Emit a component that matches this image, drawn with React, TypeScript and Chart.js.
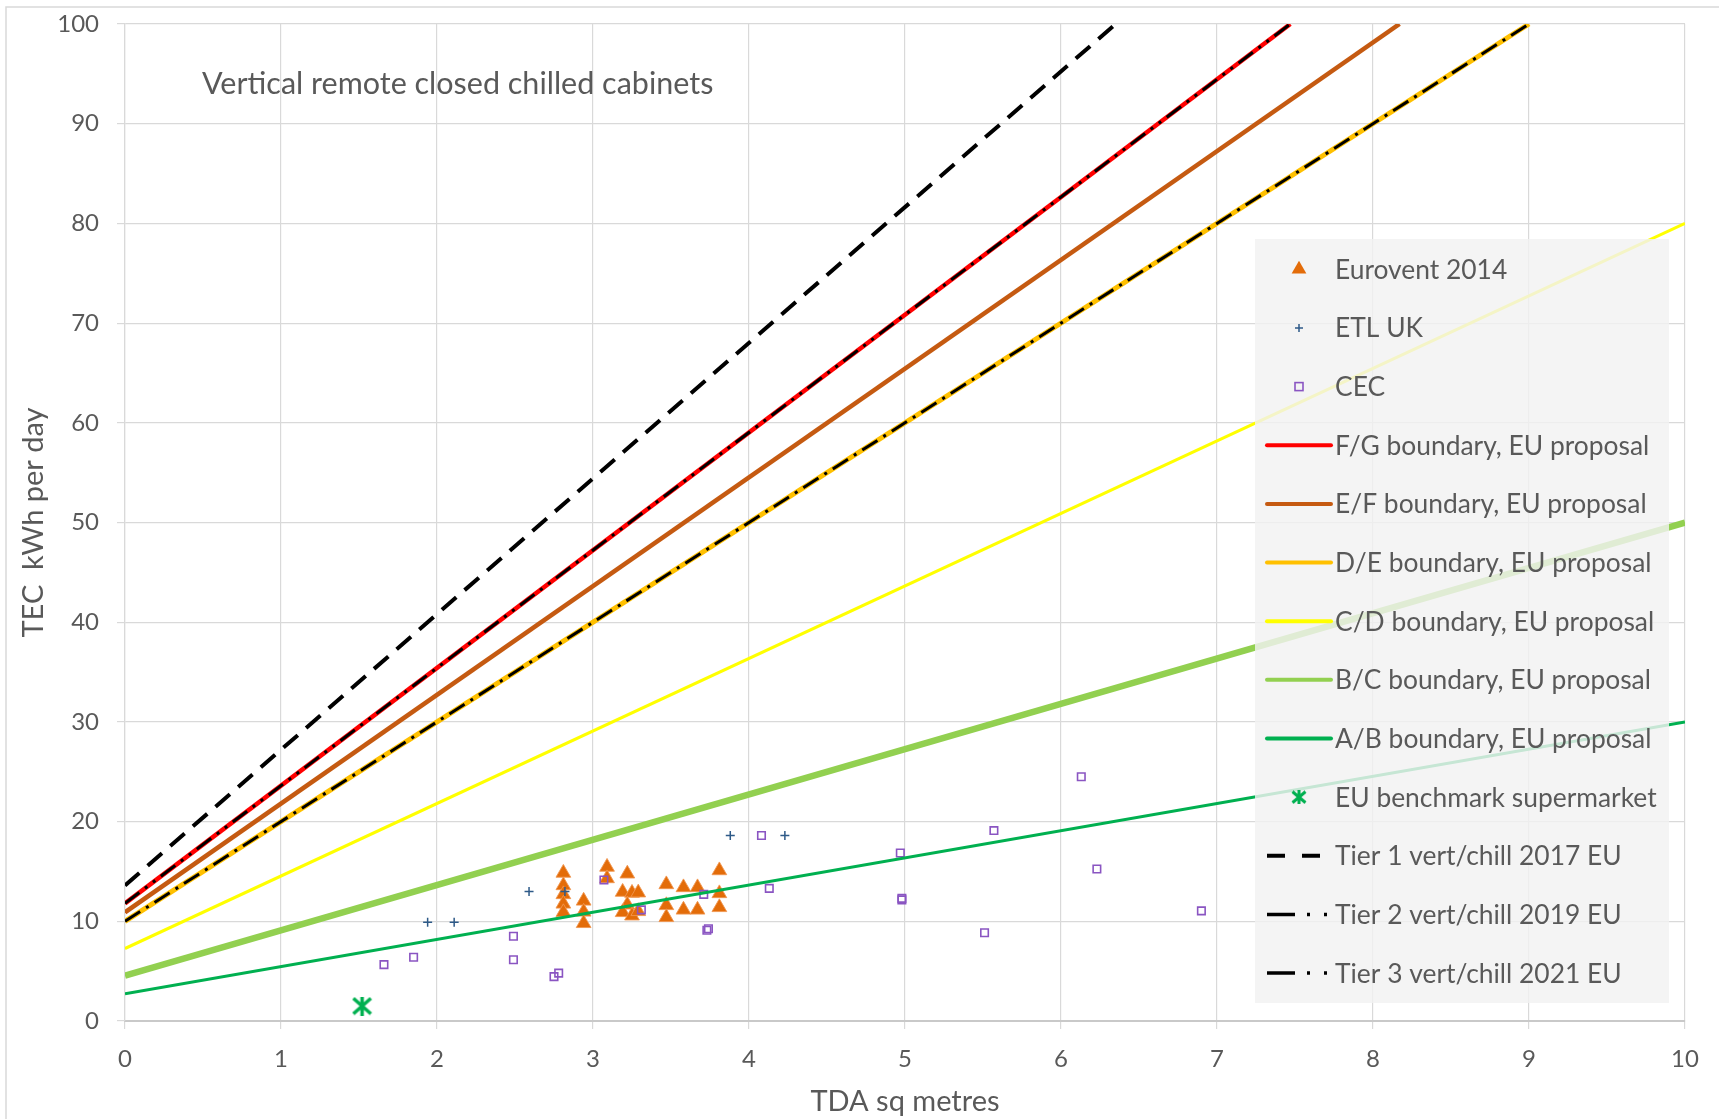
import React, { useEffect, useRef } from 'react';
import { Chart, registerables } from 'chart.js';

Chart.register(...registerables);

// ---------------- data ----------------
const xTickValues = [0, 1, 2, 3, 4, 5, 6, 7, 8, 9, 10];
const yTickValues = [0, 10, 20, 30, 40, 50, 60, 70, 80, 90, 100];

const seriesLabels = [
  'Eurovent 2014',
  'ETL UK',
  'CEC',
  'F/G boundary, EU proposal',
  'E/F boundary, EU proposal',
  'D/E boundary, EU proposal',
  'C/D boundary, EU proposal',
  'B/C boundary, EU proposal',
  'A/B boundary, EU proposal',
  'EU benchmark supermarket',
  'Tier 1 vert/chill 2017 EU',
  'Tier 2 vert/chill 2019 EU',
  'Tier 3 vert/chill 2021 EU',
];

const euroventX = [2.81, 2.81, 2.81, 2.81, 2.81, 2.94, 2.94, 2.94, 3.09, 3.09, 3.22, 3.19, 3.25, 3.29, 3.22, 3.19, 3.25, 3.29, 3.47, 3.47, 3.47, 3.58, 3.58, 3.67, 3.67, 3.81, 3.81, 3.81];
const euroventY = [14.85, 13.6, 12.7, 11.75, 10.9, 12.05, 10.95, 9.8, 15.45, 14.3, 14.77, 12.94, 12.84, 12.87, 11.66, 10.9, 10.56, 11.0, 13.7, 11.6, 10.4, 13.4, 11.15, 13.4, 11.15, 15.1, 12.8, 11.4];

const etlX = [1.94, 2.11, 2.59, 2.82, 3.88, 4.23];
const etlY = [9.9, 9.9, 13.0, 13.0, 18.6, 18.6];

const cecX = [1.66, 1.85, 2.49, 2.49, 2.75, 2.78, 3.07, 3.31, 3.71, 3.73, 3.74, 4.08, 4.13, 4.97, 4.98, 4.98, 5.51, 5.57, 6.13, 6.23, 6.9];
const cecY = [5.65, 6.4, 8.5, 6.15, 4.45, 4.8, 14.15, 11.15, 12.7, 9.1, 9.25, 18.6, 13.3, 16.85, 12.15, 12.3, 8.85, 19.1, 24.5, 15.25, 11.05];

const fgX = [0, 7.47];
const fgY = [11.8, 100];
const efX = [0, 8.17];
const efY = [10.9, 100];
const deX = [0, 9];
const deY = [10, 100];
const cdX = [0, 10];
const cdY = [7.27, 80];
const bcX = [0, 10];
const bcY = [4.55, 50];
const abX = [0, 10];
const abY = [2.73, 30];

const benchX = [1.52];
const benchY = [1.5];

const tier1X = [0, 6.35];
const tier1Y = [13.6, 100];
const tier2X = [0, 7.47];
const tier2Y = [11.8, 100];
const tier3X = [0, 9];
const tier3Y = [10, 100];

const chartTitle = 'Vertical remote closed chilled cabinets';
const xTitle = 'TDA sq metres';
const yTitle = 'TEC  kWh per day';

// ---------------- styles ----------------
const FONT = 'Lato, "Open Sans", sans-serif';
const TEXT = '#595959';
const GRID = '#d9d9d9';
const C_EURO = '#e36c09';
const C_ETL = '#2e5a88';
const C_CEC = '#8a55c2';
const C_FG = '#ff0000';
const C_EF = '#c55a11';
const C_DE = '#ffc000';
const C_CD = '#ffff00';
const C_BC = '#92d050';
const C_AB = '#00b050';
const C_BENCH = '#00b050';

const pts = (xs: number[], ys: number[]) => xs.map((x, i) => ({ x, y: ys[i] }));

function makeBench(w: number, h: number, lw: number, color: string) {
  const c = document.createElement('canvas');
  c.width = w;
  c.height = h;
  const g = c.getContext('2d')!;
  g.strokeStyle = color;
  g.lineWidth = lw;
  const p = lw / 2;
  g.beginPath();
  g.moveTo(p, p);
  g.lineTo(w - p, h - p);
  g.moveTo(w - p, p);
  g.lineTo(p, h - p);
  g.moveTo(w / 2, 0);
  g.lineTo(w / 2, h);
  g.stroke();
  return c;
}

export default function App() {
  const ref = useRef<HTMLCanvasElement>(null);

  useEffect(() => {
    document.body.style.margin = '0';
    const canvas = ref.current!;
    const benchImg = makeBench(21, 19, 3.5, C_BENCH);
    const benchLegend = makeBench(16, 14, 3, C_BENCH);

    const lineDs = (i: number, xs: number[], ys: number[], color: string, width: number, dash: number[] = []) => ({
      label: seriesLabels[i],
      data: pts(xs, ys),
      showLine: true,
      borderColor: color,
      backgroundColor: color,
      borderWidth: width,
      borderDash: dash,
      pointRadius: 0,
      pointHoverRadius: 0,
      clip: 0,
      order: 13 - i,
    });

    const datasets: any[] = [
      {
        label: seriesLabels[0],
        data: pts(euroventX, euroventY),
        pointStyle: 'triangle',
        pointRadius: 8.5,
        backgroundColor: C_EURO,
        borderColor: 'rgba(240,150,80,0.9)',
        borderWidth: 1,
        order: 13,
      },
      {
        label: seriesLabels[1],
        data: pts(etlX, etlY),
        pointStyle: 'cross',
        pointRadius: 4.5,
        borderColor: C_ETL,
        backgroundColor: C_ETL,
        borderWidth: 1.5,
        order: 12,
      },
      {
        label: seriesLabels[2],
        data: pts(cecX, cecY),
        pointStyle: 'rect',
        pointRadius: 5.3,
        borderColor: C_CEC,
        backgroundColor: 'rgba(255,255,255,0)',
        borderWidth: 1.6,
        order: 11,
      },
      lineDs(3, fgX, fgY, C_FG, 4.5),
      lineDs(4, efX, efY, C_EF, 4.5),
      lineDs(5, deX, deY, C_DE, 5),
      lineDs(6, cdX, cdY, C_CD, 3),
      lineDs(7, bcX, bcY, C_BC, 6.5),
      lineDs(8, abX, abY, C_AB, 3),
      {
        label: seriesLabels[9],
        data: pts(benchX, benchY),
        pointStyle: benchImg,
        pointRadius: 10,
        borderColor: C_BENCH,
        backgroundColor: C_BENCH,
        order: 4,
      },
      lineDs(10, tier1X, tier1Y, '#000000', 4, [19, 11]),
      lineDs(11, tier2X, tier2Y, '#000000', 3, [18, 7, 3, 7, 3, 7]),
      lineDs(12, tier3X, tier3Y, '#000000', 3, [18, 7, 3, 7]),
    ];

    const bgPlugin = {
      id: 'bgPlugin',
      beforeDraw(chart: any) {
        const ctx = chart.ctx;
        ctx.save();
        ctx.fillStyle = '#ffffff';
        ctx.fillRect(0, 0, chart.width, chart.height);
        ctx.strokeStyle = GRID;
        ctx.lineWidth = 1.5;
        ctx.beginPath();
        ctx.moveTo(6, chart.height);
        ctx.lineTo(6, 7);
        ctx.lineTo(chart.width, 7);
        ctx.stroke();
        ctx.restore();
      },
    };

    const overlayPlugin = {
      id: 'overlayPlugin',
      afterDraw(chart: any) {
        const ctx = chart.ctx;
        ctx.save();
        // chart title inside plot
        ctx.fillStyle = TEXT;
        ctx.font = `30.5px ${FONT}`;
        ctx.textBaseline = 'middle';
        ctx.textAlign = 'left';
        ctx.fillText(chartTitle, 202, 84);

        // legend box
        const bx = 1255, by = 239, bw = 414, bh = 764;
        ctx.fillStyle = 'rgba(242,242,242,0.82)';
        ctx.fillRect(bx, by, bw, bh);

        const x0 = 1267, x1 = 1331, xm = 1299, xt = 1335;
        const y0 = 269.3, dy = 58.65;
        ctx.font = `26.4px ${FONT}`;
        seriesLabels.forEach((label, i) => {
          const y = y0 + i * dy;
          ctx.save();
          if (i === 0) {
            const r = 8.5;
            ctx.fillStyle = C_EURO;
            ctx.beginPath();
            ctx.moveTo(xm, y - r);
            ctx.lineTo(xm + r * 0.866, y + r / 2);
            ctx.lineTo(xm - r * 0.866, y + r / 2);
            ctx.closePath();
            ctx.fill();
          } else if (i === 1) {
            ctx.strokeStyle = C_ETL;
            ctx.lineWidth = 1.5;
            ctx.beginPath();
            ctx.moveTo(xm - 4, y);
            ctx.lineTo(xm + 4, y);
            ctx.moveTo(xm, y - 4);
            ctx.lineTo(xm, y + 4);
            ctx.stroke();
          } else if (i === 2) {
            ctx.strokeStyle = C_CEC;
            ctx.lineWidth = 1.6;
            ctx.strokeRect(xm - 4, y - 4, 8, 8);
          } else if (i === 9) {
            ctx.drawImage(benchLegend, xm - 8, y - 7);
          } else {
            const colors: Record<number, string> = { 3: C_FG, 4: C_EF, 5: C_DE, 6: C_CD, 7: C_BC, 8: C_AB };
            ctx.lineCap = 'round';
            if (i <= 8) {
              ctx.strokeStyle = colors[i];
              ctx.lineWidth = 4;
              ctx.beginPath();
              ctx.moveTo(x0, y);
              ctx.lineTo(x1, y);
              ctx.stroke();
            } else if (i === 10) {
              ctx.strokeStyle = '#000';
              ctx.lineWidth = 4;
              ctx.lineCap = 'butt';
              ctx.setLineDash([18, 17]);
              ctx.beginPath();
              ctx.moveTo(x0, y);
              ctx.lineTo(x0 + 53, y);
              ctx.stroke();
            } else {
              ctx.strokeStyle = '#000';
              ctx.lineWidth = 3.5;
              ctx.lineCap = 'butt';
              ctx.setLineDash([28, 12, 3, 14, 3, 10]);
              ctx.beginPath();
              ctx.moveTo(x0, y);
              ctx.lineTo(x0 + 62, y);
              ctx.stroke();
            }
          }
          ctx.restore();
          ctx.fillStyle = TEXT;
          ctx.textBaseline = 'middle';
          ctx.textAlign = 'left';
          ctx.fillText(label, xt, y + 1);
        });
        ctx.restore();
      },
    };

    const chart = new Chart(canvas, {
      type: 'scatter',
      data: { datasets },
      options: {
        animation: false,
        responsive: false,
        devicePixelRatio: 1,
        events: [],
        layout: { padding: { left: 0, top: 24, right: 34, bottom: 0 } },
        plugins: {
          legend: { display: false },
          tooltip: { enabled: false },
          title: { display: false },
        },
        scales: {
          x: {
            type: 'linear',
            min: 0,
            max: 10,
            afterBuildTicks: (s: any) => {
              s.ticks = xTickValues.map((v) => ({ value: v }));
            },
            afterFit: (s: any) => {
              s.height = 98;
              s.paddingLeft = 0;
              s.paddingRight = 0;
            },
            ticks: {
              color: TEXT,
              font: { family: FONT, size: 24 },
              padding: 16,
              maxRotation: 0,
              autoSkip: false,
            },
            grid: { color: GRID, lineWidth: 1.2, tickLength: 8, drawTicks: true },
            border: { display: true, color: '#c9c9c9', width: 2 },
            title: {
              display: true,
              text: xTitle,
              color: TEXT,
              font: { family: FONT, size: 29 },
              padding: { top: 0, bottom: 0 },
            },
          },
          y: {
            type: 'linear',
            min: 0,
            max: 100,
            afterBuildTicks: (s: any) => {
              s.ticks = yTickValues.map((v) => ({ value: v }));
            },
            afterFit: (s: any) => {
              s.width = 125;
              s.paddingTop = 0;
              s.paddingBottom = 0;
            },
            ticks: {
              color: TEXT,
              font: { family: FONT, size: 24 },
              padding: 18,
              autoSkip: false,
            },
            grid: { color: GRID, lineWidth: 1.2, tickLength: 8, drawTicks: true },
            border: { display: true, color: GRID, width: 1.2 },
            title: {
              display: true,
              text: yTitle,
              color: TEXT,
              font: { family: FONT, size: 29 },
              padding: { top: 16, bottom: 0 },
            },
          },
        },
      },
      plugins: [bgPlugin, overlayPlugin],
    } as any);

    return () => chart.destroy();
  }, []);

  return (
    <div style={{ width: 1719, height: 1119 }}>
      <canvas ref={ref} width={1719} height={1119} style={{ display: 'block' }} />
    </div>
  );
}
